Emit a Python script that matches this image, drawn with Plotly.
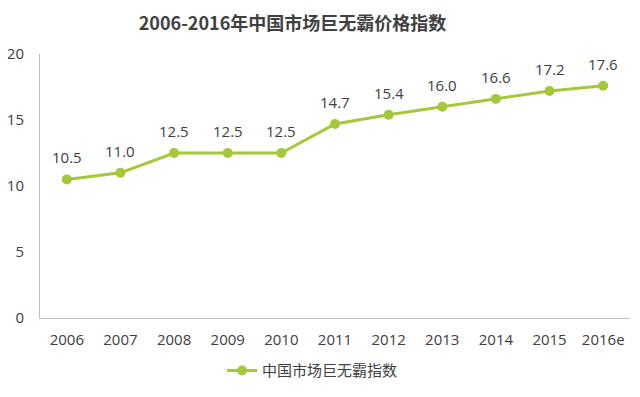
import plotly.graph_objects as go

years = ["2006", "2007", "2008", "2009", "2010", "2011", "2012", "2013", "2014", "2015", "2016e"]
values = [10.5, 11.0, 12.5, 12.5, 12.5, 14.7, 15.4, 16.0, 16.6, 17.2, 17.6]
labels = ["10.5", "11.0", "12.5", "12.5", "12.5", "14.7", "15.4", "16.0", "16.6", "17.2", "17.6"]
series_name = "中国市场巨无霸指数"
title = "2006-2016年中国市场巨无霸价格指数"

green = "#a4c83a"
txt = "#404040"
font_family = "Open Sans, Noto Sans CJK SC, sans-serif"

fig = go.Figure()
fig.add_trace(go.Scatter(
    x=years, y=values, mode="lines+markers",
    name=series_name,
    line=dict(color=green, width=3),
    marker=dict(color=green, size=10),
    cliponaxis=False,
))

# data labels placed on category index positions of the category axis
for i, (yv, lab) in enumerate(zip(values, labels)):
    fig.add_annotation(x=i, y=yv, xref="x", yref="y", text=lab, showarrow=False, yshift=22,
                       font=dict(size=15, color=txt, family=font_family))

fig.update_layout(
    width=624, height=381,
    margin=dict(l=32, r=2, t=46, b=65),
    paper_bgcolor="white", plot_bgcolor="white",
    font=dict(family=font_family, color=txt, size=15),
    title=dict(text="<b>" + title + "</b>", x=0.456, xanchor="center", y=0.958, yanchor="middle",
               font=dict(size=18, color=txt, family="Noto Sans CJK SC, sans-serif")),
    showlegend=True,
    legend=dict(orientation="h", x=0.462, xanchor="center", y=-0.2, yanchor="middle",
                font=dict(size=15, color=txt, family="Noto Sans CJK SC, sans-serif"),
                itemwidth=30),
    xaxis=dict(type="category", range=[-0.5, len(years) - 0.5], showline=True,
               linecolor="#bfbfbf", linewidth=1, showgrid=False,
               ticks="", tickfont=dict(size=15, color=txt), zeroline=False,
               automargin=False, ticklabelstandoff=8),
    yaxis=dict(range=[0, 20], dtick=5, showline=True, linecolor="#bfbfbf", linewidth=1,
               showgrid=False, zeroline=False, ticks="", tickfont=dict(size=15, color=txt),
               ticklabelstandoff=12, automargin=False),
)

fig.write_html("out.html")
